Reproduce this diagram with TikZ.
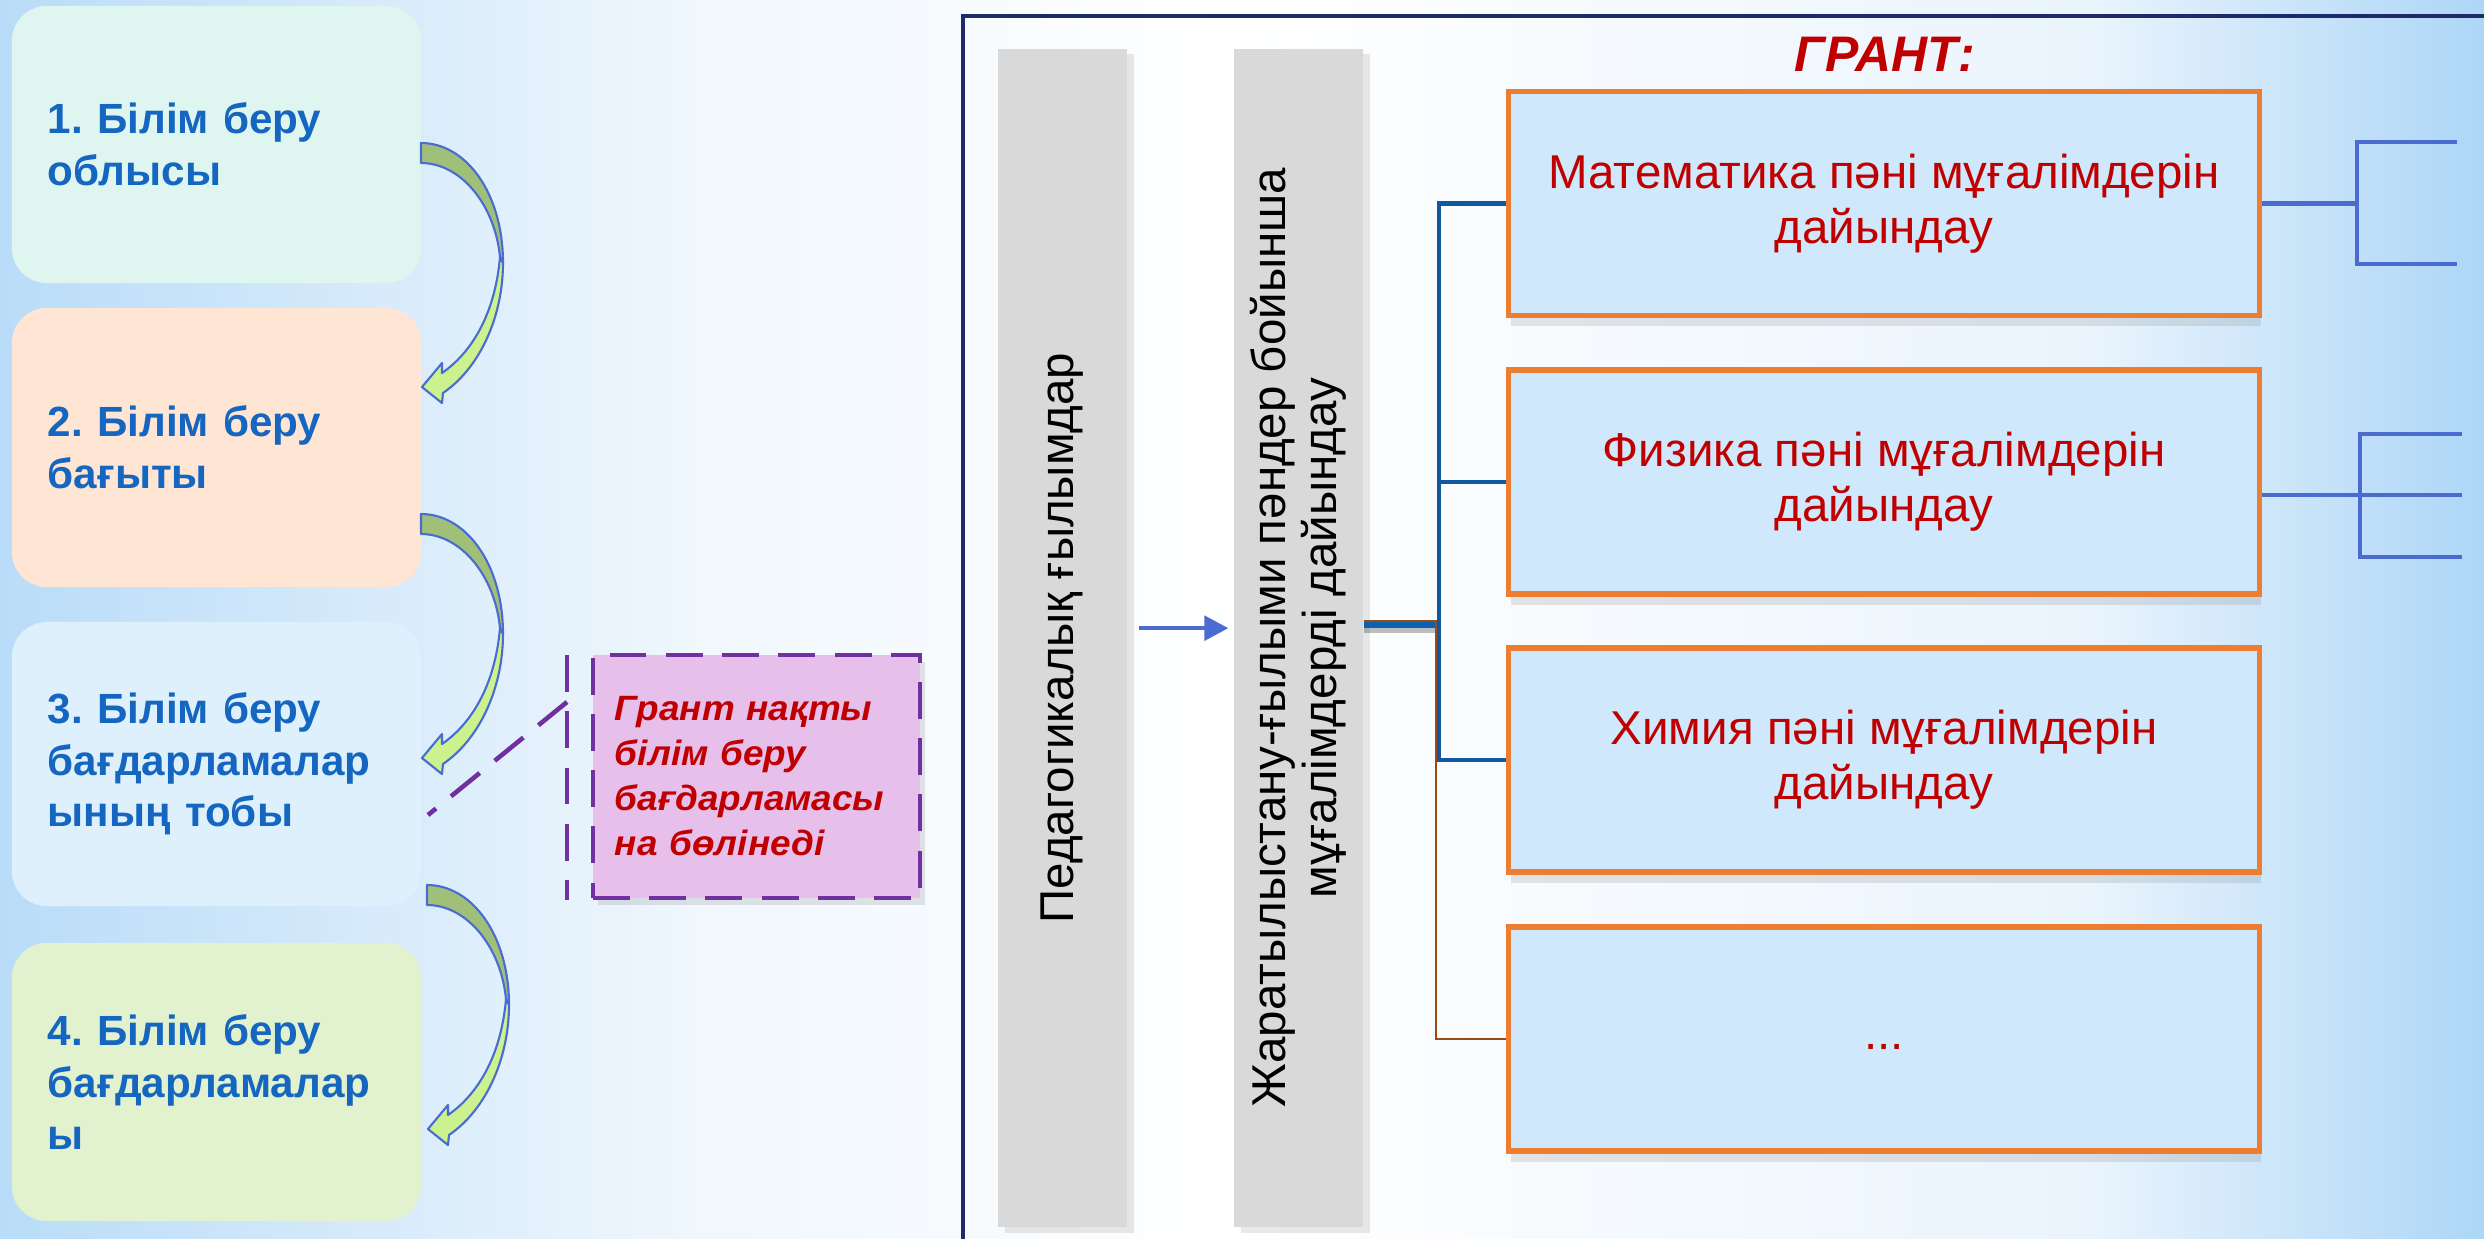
\documentclass[tikz,border=0pt]{standalone}
\usepackage{fontspec}
\setmainfont{Liberation Sans}
\newfontfamily\callfont{Liberation Sans}[FakeStretch=1.05]
\frenchspacing
\usetikzlibrary{arrows.meta,shadows}
\definecolor{bgL}{HTML}{B9DCF8}
\definecolor{bgM}{HTML}{F0F7FD}
\definecolor{bgN}{HTML}{EAF4FD}
\definecolor{bgR}{HTML}{ADD6F6}
\definecolor{boxA}{HTML}{DFF5EF}
\definecolor{boxB}{HTML}{FFE5D3}
\definecolor{boxC}{HTML}{DDF0FC}
\definecolor{boxD}{HTML}{E2F2CF}
\definecolor{lefttext}{HTML}{1566C0}
\definecolor{purfill}{HTML}{E6BFEB}
\definecolor{purline}{HTML}{7030A0}
\definecolor{redtext}{HTML}{C00000}
\definecolor{barfill}{HTML}{D9D9D9}
\definecolor{arrowblue}{HTML}{4A6BD0}
\definecolor{orangeline}{HTML}{ED7D31}
\definecolor{orangefill}{HTML}{CFE8FB}
\definecolor{trunkblue}{HTML}{0B62B0}
\definecolor{branchblue}{HTML}{11589E}
\definecolor{brownline}{HTML}{9C4A10}
\definecolor{navyline}{HTML}{1F2A6B}
\definecolor{gdark}{HTML}{A0C07A}
\definecolor{glight}{HTML}{CCF290}
\pgfdeclarehorizontalshading{bgshade}{100bp}{color(0bp)=(bgL); color(25bp)=(bgL); color(39bp)=(bgM); color(50bp)=(white); color(67bp)=(bgN); color(75bp)=(bgR); color(100bp)=(bgR)}
\tikzset{
  curvarrow/.pic={
    \filldraw[fill=gdark, draw=arrowblue, line width=0.6pt, line join=round]
      (0,0) .. controls (45,0) and (82,50) .. (82,120) -- (79,114)
      .. controls (74,62) and (40,20) .. (0,20) -- cycle;
    \filldraw[fill=glight, draw=arrowblue, line width=0.6pt, line join=round]
      (82,120) .. controls (82,172) and (60,224) .. (22,250) -- (21,260) -- (1,244)
      -- (21,220) -- (21,230) .. controls (50,210) and (74,172) .. (79,114) -- cycle;
  }
}
\begin{document}
\begin{tikzpicture}[x=0.01cm,y=-0.01cm,
  leftbox/.style={rounded corners=0.35cm, minimum width=4.09cm, text width=3.37cm,
    inner xsep=0.36cm, align=left, text=lefttext,
    font=\bfseries\fontsize{12}{14.7}\selectfont},
  grbar/.style={fill=barfill, minimum width=1.29cm, minimum height=11.78cm,
    drop shadow={shadow xshift=2pt, shadow yshift=-1.5pt, opacity=0.18}},
  bartext/.style={rotate=90, align=center, font=\fontsize{13.5}{14.5}\selectfont},
  obox/.style={draw=orangeline, line width=1.5pt, fill=orangefill,
    minimum width=7.5cm, minimum height=2.24cm, align=center, text=redtext,
    font=\fontsize{13.5}{15.6}\selectfont,
    drop shadow={shadow xshift=0.5pt, shadow yshift=-3pt, opacity=0.2}},
  callbox/.style={draw=purline, fill=purfill, line width=1.3pt,
    dash pattern=on 10.5pt off 5.5pt, minimum width=3.27cm, minimum height=2.43cm,
    text width=2.83cm, inner xsep=0.22cm, align=left, text=redtext,
    font=\callfont\bfseries\itshape\fontsize{10}{12.8}\selectfont,
    drop shadow={shadow xshift=1.5pt, shadow yshift=-2pt, opacity=0.2, solid}},
  calldash/.style={draw=purline, line width=1.3pt, dash pattern=on 10.5pt off 5.5pt},
  barrow/.style={draw=arrowblue, line width=1.1pt, -{Triangle[length=6.8pt,width=7pt]}},
  trunk/.style={draw=trunkblue, line width=1.6pt},
  branch/.style={draw=branchblue, line width=1.3pt},
  brownln/.style={draw=brownline, line width=0.7pt},
  brk/.style={draw=arrowblue, line width=1.4pt},
  frame/.style={draw=navyline, line width=0.9pt}
]
\useasboundingbox (0,0) rectangle (2484,1239);
\shade[shading=bgshade] (0,0) rectangle (2484,1239);

% frame
\coordinate (f0) at (963,1239);
\coordinate (f1) at (963,16);
\coordinate (f2) at (2484,16);
\draw[frame] (f0) -- (f1) -- (f2);

% left boxes
\node[leftbox, fill=boxA, minimum height=2.77cm] (b1) at (216.5,144.5) {1. Білім беру\\облысы};
\node[leftbox, fill=boxB, minimum height=2.79cm] (b2) at (216.5,447.5) {2. Білім беру\\бағыты};
\node[leftbox, fill=boxC, minimum height=2.84cm] (b3) at (216.5,764) {3. Білім беру\\бағдарламалар\\ының тобы};
\node[leftbox, fill=boxD, minimum height=2.78cm] (b4) at (216.5,1082) {4. Білім беру\\бағдарламалар\\ы};

% curved arrows
\pic at (421,143) {curvarrow};
\pic at (421,514) {curvarrow};
\pic at (427,885) {curvarrow};

% callout
\coordinate (acc1) at (567,655);
\coordinate (acc2) at (567,900);
\coordinate (accm) at (567,702);
\coordinate (ctip) at (428,815);
\draw[calldash] (acc1) -- (acc2);
\draw[calldash] (accm) -- (ctip);
\node[callbox] (cb) at (756.5,776.5) {Грант нақты\\білім беру\\бағдарламасы\\на бөлінеді};

% gray bars
\node[grbar] (bar1) at (1062.5,638) {};
\node[grbar] (bar2) at (1298.5,638) {};
\node[bartext] (t1) at (bar1.center) {Педагогикалық ғылымдар};
\node[bartext] (t2) at (bar2.center) {Жаратылыстану-ғылыми пәндер бойынша\\мұғалімдерді дайындау};
\draw[barrow, shorten <=0.11cm, shorten >=0.05cm] ([yshift=2.8pt]bar1.east) -- ([yshift=2.8pt]bar2.west);

% title
\node[anchor=base, text=redtext, font=\bfseries\itshape\fontsize{14.2}{17}\selectfont] (title) at (1885,71) {ГРАНТ:};

% orange boxes
\node[obox] (m1) at (1884,203.5) {Математика пәні мұғалімдерін\\дайындау};
\node[obox] (m2) at (1884,482) {Физика пәні мұғалімдерін\\дайындау};
\node[obox] (m3) at (1884,760) {Химия пәні мұғалімдерін\\дайындау};
\node[obox] (m4) at (1884,1039) {\strut...};

% connectors
\coordinate (jn) at (1439,625);
\coordinate (bj) at (1436,621);
\draw[draw=black, opacity=0.25, line width=1.6pt] ([yshift=-1.5pt]bar2.east |- jn) -- ([yshift=-1.5pt]jn);
\draw[trunk] (bar2.east |- jn) -- (jn);
\draw[branch] (m1.west) -| (jn |- m3.west) -- (m3.west);
\draw[branch] (jn |- m2.west) -- (m2.west);
\draw[brownln] (bar2.east |- bj) -- (bj) |- (m4.west);

% right brackets
\coordinate (k1a) at (2457,142);
\coordinate (k1b) at (2357,142);
\coordinate (k1c) at (2357,264);
\coordinate (k1d) at (2457,264);
\draw[brk] (m1.east) -- (m1.east -| k1b);
\draw[brk] (k1a) -- (k1b) -- (k1c) -- (k1d);
\coordinate (k2a) at (2462,434);
\coordinate (k2b) at (2360,434);
\coordinate (k2c) at (2360,557);
\coordinate (k2d) at (2462,557);
\coordinate (k2e) at (2462,495);
\draw[brk] (m2.east |- k2e) -- (k2e);
\draw[brk] (k2a) -- (k2b) -- (k2c) -- (k2d);
\end{tikzpicture}
\end{document}
